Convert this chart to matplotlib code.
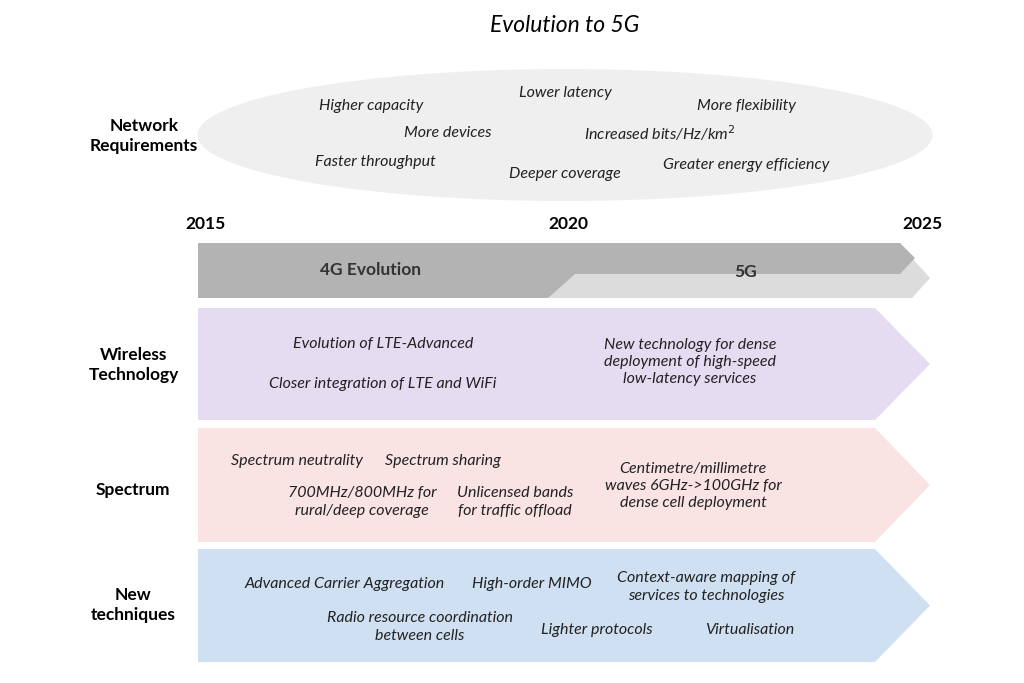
import matplotlib
matplotlib.use("Agg")
import matplotlib.pyplot as plt
from matplotlib.patches import Polygon, Ellipse

plt.rcParams["font.family"] = "Lato"

# ---- content ----
years = ["2015", "2020", "2025"]
year_x = [205, 568, 922]

row_labels = ["Network\nRequirements", "Wireless\nTechnology", "Spectrum", "New\ntechniques"]
row_label_pos = [(144, 136), (134, 365), (133, 490), (133, 605)]

requirements = ["Higher capacity", "Lower latency", "More flexibility", "More devices",
                "Increased bits/Hz/km$^2$", "Faster throughput", "Deeper coverage",
                "Greater energy efficiency"]
req_pos = [(371, 106), (565, 93), (746, 106), (448, 133), (660, 133),
           (375, 162), (565, 174), (746, 165)]

wireless = ["Evolution of LTE-Advanced", "Closer integration of LTE and WiFi",
            "New technology for dense\ndeployment of high-speed\nlow-latency services"]
wireless_pos = [(383, 344), (383, 384), (690, 362)]

spectrum = ["Spectrum neutrality", "Spectrum sharing", "700MHz/800MHz for\nrural/deep coverage",
            "Unlicensed bands\nfor traffic offload", "Centimetre/millimetre\nwaves 6GHz->100GHz for\ndense cell deployment"]
spectrum_pos = [(297, 461), (443, 461), (362, 502), (515, 502), (693, 486)]

techniques = ["Advanced Carrier Aggregation", "High-order MIMO", "Context-aware mapping of\nservices to technologies",
              "Radio resource coordination\nbetween cells", "Lighter protocols", "Virtualisation"]
tech_pos = [(345, 584), (532, 584), (706, 587), (420, 627), (597, 630), (750, 630)]

bands = [(308, 420, "#e6dcf2"), (428, 542, "#f9e3e3"), (549, 662, "#cfe0f2")]

fig = plt.figure(figsize=(10.24, 6.83), dpi=100)
ax = fig.add_axes([0, 0, 1, 1])
ax.set_xlim(0, 1024)
ax.set_ylim(683, 0)
ax.axis("off")

ax.text(565, 26, "Evolution to 5G", ha="center", va="center", fontsize=16.5, style="italic")

ax.add_patch(Ellipse((565, 135), 735, 132, color="#efefef", lw=0))
for s, (x, y) in zip(requirements, req_pos):
    ax.text(x, y, s, ha="center", va="center", fontsize=11.5, style="italic", color="#222222")

for s, x in zip(years, year_x):
    ax.text(x, 224, s, ha="center", va="center", fontsize=12.5, weight="bold")

# 5G arrow (behind), then 4G arrow on top
ax.add_patch(Polygon([(548, 298), (580, 258), (912, 258), (930, 278), (912, 298)],
                     color="#dcdcdc", lw=0))
ax.add_patch(Polygon([(198, 243), (900, 243), (915, 258), (900, 274), (575, 274),
                      (548, 298), (198, 298)], color="#b3b3b3", lw=0))
ax.text(371, 270, "4G Evolution", ha="center", va="center", fontsize=12.5, weight="bold", color="#333333")
ax.text(746, 272, "5G", ha="center", va="center", fontsize=12.5, weight="bold", color="#333333")

for top, bot, c in bands:
    mid = (top + bot) / 2
    ax.add_patch(Polygon([(198, top), (875, top), (930, mid), (875, bot), (198, bot)],
                         color=c, lw=0))

for s, (x, y) in zip(row_labels, row_label_pos):
    ax.text(x, y, s, ha="center", va="center", fontsize=12.5, weight="bold", linespacing=1.3)

for texts, pos in [(wireless, wireless_pos), (spectrum, spectrum_pos), (techniques, tech_pos)]:
    for s, (x, y) in zip(texts, pos):
        ax.text(x, y, s, ha="center", va="center", fontsize=11.5, style="italic",
                color="#222222", linespacing=1.3)

fig.savefig("out.png", dpi=100, facecolor="white")
